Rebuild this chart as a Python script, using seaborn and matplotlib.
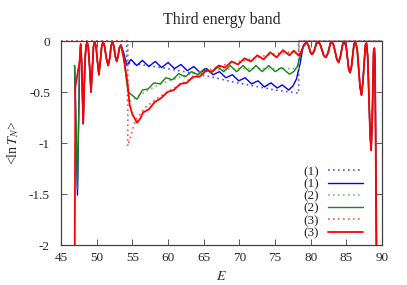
import matplotlib
matplotlib.use("Agg")
import matplotlib.pyplot as plt
from matplotlib.patches import Rectangle
import seaborn as sns

# shared parts of the three solid curves (they coincide near the band edges)
left_x = [47.6, 47.75, 47.88, 48.1, 48.35, 48.5, 48.65, 48.8, 49.0, 49.2, 49.4, 49.55, 49.7, 49.9,
          50.1, 50.3, 50.5, 50.7, 50.9, 51.1, 51.35, 51.6, 51.85, 52.0, 52.2, 52.4, 52.6, 52.8,
          53.0, 53.2, 53.4]
left_y = [-0.20, -0.03, -0.20, -0.81, -0.20, -0.05, -0.01, -0.05, -0.25, -0.50, -0.25, -0.05, -0.01, -0.05,
          -0.20, -0.33, -0.20, -0.05, -0.01, -0.05, -0.17, -0.24, -0.16, -0.05, -0.01, -0.05, -0.15, -0.20,
          -0.14, -0.06, -0.04]
right_x = [79.4, 79.7, 80.0, 80.2, 80.45, 80.8, 81.05, 81.3, 81.8, 82.1, 82.4, 82.75, 82.95, 83.2,
           83.65, 83.9, 84.15, 84.5, 84.7, 84.95, 85.3, 85.5, 85.7, 86.05, 86.25, 86.5, 86.9, 87.1,
           87.3, 87.65, 87.8, 87.97, 88.3, 88.45, 88.6, 88.8, 88.9, 89.0, 89.25]
right_y = [-0.01, -0.05, -0.12, -0.13, -0.10, -0.02, -0.01, -0.03, -0.14, -0.16, -0.12, -0.02, -0.01, -0.04,
           -0.18, -0.21, -0.15, -0.02, -0.01, -0.05, -0.27, -0.31, -0.25, -0.03, -0.01, -0.08, -0.45, -0.53,
           -0.40, -0.04, -0.02, -0.15, -0.90, -1.07, -0.80, -0.10, -0.07, -0.20, -2.5]

# (1) solid, middle of the band
b_mid_x = [53.8, 54.2, 54.8, 55.6, 56.4, 57.3, 58.2, 59.1, 60.0, 60.9, 61.8, 62.7, 63.6, 64.5, 65.4,
           66.3, 67.2, 68.1, 69.0, 69.9, 70.8, 71.7, 72.6, 73.5, 74.4, 75.3, 76.0, 76.9, 77.5, 78.0,
           78.5, 78.9]
b_mid_y = [-0.12, -0.24, -0.18, -0.24, -0.19, -0.25, -0.20, -0.26, -0.21, -0.27, -0.23, -0.29, -0.25, -0.31, -0.27,
           -0.33, -0.30, -0.36, -0.33, -0.39, -0.36, -0.42, -0.39, -0.45, -0.41, -0.46, -0.43, -0.48, -0.44, -0.37,
           -0.22, -0.06]
# (2) solid
g_mid_x = [53.8, 54.1, 54.4, 55.65, 56.4, 57.2, 58.0, 58.9, 59.7, 60.6, 61.5, 62.4, 63.3, 64.2, 65.1, 66.0,
           66.9, 67.8, 68.7, 69.6, 70.5, 71.4, 72.3, 73.2, 74.1, 75.0, 75.9, 77.0, 77.6, 78.1,
           78.5, 78.9]
g_mid_y = [-0.15, -0.35, -0.50, -0.57, -0.48, -0.47, -0.41, -0.42, -0.36, -0.38, -0.32, -0.35, -0.30, -0.33, -0.27, -0.31,
           -0.25, -0.30, -0.24, -0.30, -0.24, -0.30, -0.24, -0.30, -0.24, -0.30, -0.26, -0.325, -0.30, -0.25,
           -0.15, -0.05]
# (3) solid
r_mid_x = [53.8, 54.3, 54.6, 55.0, 55.65, 56.1, 56.5, 57.3, 58.1, 59.0, 59.9, 60.8, 61.7, 62.6, 63.5, 64.4, 65.3, 66.2,
           67.1, 68.0, 68.9, 69.8, 70.7, 71.6, 72.5, 73.4, 74.3, 75.2, 76.1, 77.0, 77.6, 78.35,
           78.8, 79.1]
r_mid_y = [-0.18, -0.40, -0.62, -0.72, -0.80, -0.76, -0.70, -0.67, -0.60, -0.56, -0.50, -0.48, -0.42, -0.41, -0.35, -0.35, -0.29, -0.30,
           -0.24, -0.26, -0.20, -0.23, -0.17, -0.20, -0.14, -0.18, -0.11, -0.16, -0.09, -0.14, -0.095, -0.145,
           -0.08, -0.03]

blue_x = [46.9, 47.3] + left_x + b_mid_x + right_x
blue_y = [-0.24, -1.51] + left_y + b_mid_y + right_y
green_x = [46.9, 47.3] + left_x + g_mid_x + right_x
green_y = [-0.24, -1.45] + left_y + g_mid_y + right_y
red_x = [46.9, 47.0] + left_x + r_mid_x + right_x
red_y = [-2.5, -0.45] + left_y + r_mid_y + right_y

# dotted curves (smooth estimates)
bd_x = [45, 54.2, 54.2, 55, 57, 60, 63, 66, 69, 72, 75, 78.3, 78.3, 90]
bd_y = [0, 0, -0.22, -0.22, -0.24, -0.27, -0.31, -0.35, -0.40, -0.44, -0.48, -0.51, 0, 0]
gd_x = [45, 54.3, 54.3, 55, 56, 57.5, 59, 61, 63, 65, 67, 70, 73, 76, 78.3, 78.3, 90]
gd_y = [0, 0, -0.60, -0.58, -0.53, -0.47, -0.42, -0.37, -0.32, -0.30, -0.28, -0.27, -0.27, -0.27, -0.27, 0, 0]
rd_x = [45, 54.35, 54.35, 55.4, 56.8, 58.7, 61.1, 63.4, 65.5, 67.5, 70, 72, 74.4, 76, 78.35, 78.35, 90]
rd_y = [0, 0, -1.03, -0.78, -0.65, -0.55, -0.45, -0.36, -0.29, -0.24, -0.20, -0.17, -0.13, -0.115, -0.10, 0, 0]

sns.set_style("ticks")
plt.rcParams["font.family"] = ["Liberation Serif", "DejaVu Serif"]
plt.rcParams["mathtext.fontset"] = "stix"

fig = plt.figure(figsize=(4.07, 2.85), dpi=100)
ax = fig.add_axes([0.150, 0.140, 0.789, 0.716])

dot = (0, (1, 2))
series = [
    (bd_x, bd_y, "#5050ff", dot, 1.2, "(1)"),
    (blue_x, blue_y, "#0000ff", "-", 1.0, "(1)"),
    (gd_x, gd_y, "#70c070", dot, 1.2, "(2)"),
    (green_x, green_y, "#1a801a", "-", 1.0, "(2)"),
    (rd_x, rd_y, "#ff5050", dot, 1.2, "(3)"),
    (red_x, red_y, "#ff0000", "-", 1.3, "(3)"),
]
for xs, ys, c, ls, lw, lab in series:
    sns.lineplot(x=xs, y=ys, ax=ax, sort=False, estimator=None, color=c,
                 linestyle=ls, linewidth=lw, label=lab)

clip = Rectangle((0, 0), 1, 1.03, transform=ax.transAxes, facecolor="none")
for ln in ax.get_lines():
    ln.set_clip_path(clip)
    ln.set_solid_joinstyle("round")

ax.set_xlim(45, 90)
ax.set_ylim(-2, 0)
ax.set_xticks(range(45, 91, 5))
ax.set_yticks([0, -0.5, -1, -1.5, -2])
ax.set_yticklabels(["0", "-0.5", "-1", "-1.5", "-2"])
ax.tick_params(direction="in", top=True, right=True, length=4, width=0.6,
               labelsize=9.5, color="#404040")
ax.tick_params(axis="x", pad=5)
ax.tick_params(axis="y", pad=8)
for sp in ax.spines.values():
    sp.set_color("#404040")
    sp.set_linewidth(0.9)

ax.set_title("Third energy band", fontsize=11.5, pad=12)
ax.set_xlabel("$E$", fontsize=10, labelpad=4)
ax.set_ylabel(r"<ln$\,T_N$>", fontsize=10, labelpad=6)

ax.legend(loc="lower right", frameon=False, fontsize=9.5, markerfirst=False,
          handlelength=2.6, labelspacing=0.0, handletextpad=0.7,
          borderaxespad=0.3, bbox_to_anchor=(0.968, -0.016))

fig.savefig("out.png", dpi=100)
